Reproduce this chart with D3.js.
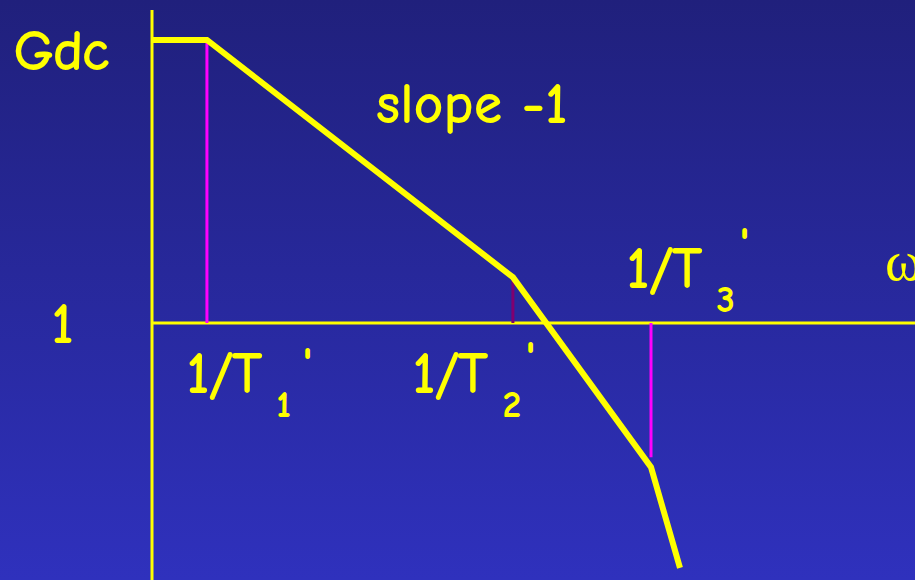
<!DOCTYPE html>
<html>
<head>
<meta charset="utf-8">
<script src="https://cdn.jsdelivr.net/npm/d3@7"></script>
<style>
	html, body { margin: 0; padding: 0; background: #2a2a9e; }
	svg { display: block; }
	.lbl { fill: #ffff00; stroke: #ffff00; stroke-width: 1.8px; stroke-linejoin: round;
		font-family: "Comic Sans MS", "Comic Neue", "DejaVu Sans", sans-serif; }
</style>
</head>
<body>
<div id="chart"></div>
<script>
// Asymptotic (Bode) magnitude sketch, axis units: log-frequency / log-gain
var breakX = [0, 7.2, 47.3, 65.4, 69.2];      // origin, 1/T1', 1/T2', 1/T3', end
var gainY = [37.1, 37.1, 6.0, -18.9, -32.1];  // Gdc plateau, then falling slopes
var dropLines = [
	{x: 7.2, y0: 0, y1: 37.1, color: "#ff00ff"},
	{x: 47.3, y0: 0, y1: 5.6, color: "#800070"},
	{x: 65.4, y0: 0, y1: -17.6, color: "#ff00ff"}
];
var tickLabels = [
	{x: 7.2, sub: "1", below: true},
	{x: 47.3, sub: "2", below: true},
	{x: 65.4, sub: "3", below: false}
];

var width = 915, height = 580;

var xScale = d3.scaleLinear().domain([0, 100]).range([152, 915]);
var yScale = d3.scaleLinear().domain([0, 37.1]).range([323, 40]);

var svg = d3.select("#chart").append("svg")
		.attr("width", width)
		.attr("height", height);

// Background gradient
var grad = svg.append("defs").append("linearGradient")
		.attr("id", "bg")
		.attr("x1", 0).attr("y1", 0).attr("x2", 0).attr("y2", 1);
grad.append("stop").attr("offset", "0%").attr("stop-color", "#20207c");
grad.append("stop").attr("offset", "100%").attr("stop-color", "#2f31bd");
svg.append("rect").attr("width", width).attr("height", height).attr("fill", "url(#bg)");

// Axes
svg.append("line")
		.attr("x1", xScale(0)).attr("x2", xScale(0))
		.attr("y1", 10).attr("y2", height)
		.attr("stroke", "#ffff00").attr("stroke-width", 3);
svg.append("line")
		.attr("x1", xScale(0)).attr("x2", width)
		.attr("y1", yScale(0)).attr("y2", yScale(0))
		.attr("stroke", "#ffff00").attr("stroke-width", 3);

// Drop lines at corner frequencies
svg.selectAll(".drop")
	.data(dropLines)
	.enter().append("line")
		.attr("class", "drop")
		.attr("x1", function(d) { return xScale(d.x); })
		.attr("x2", function(d) { return xScale(d.x); })
		.attr("y1", function(d) { return yScale(d.y0); })
		.attr("y2", function(d) { return yScale(d.y1); })
		.attr("stroke", function(d) { return d.color; })
		.attr("stroke-width", 3);

// Asymptote polyline
var line = d3.line()
		.x(function(d) { return xScale(d[0]); })
		.y(function(d) { return yScale(d[1]); });

svg.append("path")
		.datum(d3.zip(breakX, gainY))
		.attr("d", line)
		.attr("fill", "none")
		.attr("stroke", "#ffff00")
		.attr("stroke-width", 6)
		.attr("stroke-linejoin", "miter");

// Labels
svg.append("text").attr("class", "lbl")
		.attr("x", 14).attr("y", 69)
		.style("font-size", "55px")
		.text("Gdc");

svg.append("text").attr("class", "lbl")
		.attr("x", 52).attr("y", 342)
		.style("font-size", "54px")
		.text("1");

svg.append("text").attr("class", "lbl")
		.attr("x", 377).attr("y", 122)
		.style("font-size", "54px")
		.style("letter-spacing", "1.5px")
		.text("slope -1");

svg.append("text")
		.attr("x", 885).attr("y", 280)
		.attr("fill", "#ffff00")
		.style("font-family", "'Liberation Serif', 'DejaVu Serif', serif")
		.style("font-size", "56px")
		.text("ω");

var tl = svg.selectAll(".tlabel")
	.data(tickLabels)
	.enter().append("g")
		.attr("class", "tlabel")
		.attr("transform", function(d) {
			var off = d.x === 7.2 ? -20 : (d.x === 47.3 ? -100 : -24);
			return "translate(" + (xScale(d.x) + off) + "," + (d.below ? 392 : 287) + ")";
		});

tl.append("text").attr("class", "lbl")
		.attr("x", 0).attr("y", 0)
		.style("font-size", "56px")
		.text("1/T");

tl.append("text").attr("class", "lbl")
		.attr("x", 90).attr("y", 24)
		.style("font-size", "34px")
		.text(function(d) { return d.sub; });

tl.append("text").attr("class", "lbl")
		.attr("x", function(d) { return d.sub === "1" ? 116 : 113; })
		.attr("y", function(d) { return d.sub === "1" ? -11 : (d.sub === "2" ? -17 : -26); })
		.style("font-size", "46px")
		.text("'");
</script>
</body>
</html>
